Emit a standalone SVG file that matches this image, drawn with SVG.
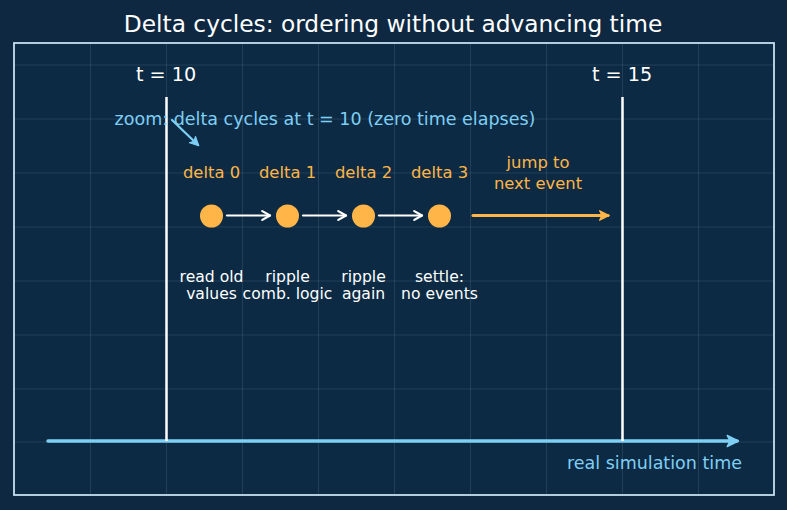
<svg xmlns="http://www.w3.org/2000/svg" width="787" height="510" viewBox="0 0 787 510">
<style>
text{font-family:"DejaVu Sans","Liberation Sans",sans-serif;}
.grid{stroke:#3b5870;stroke-width:0.8;opacity:0.6}
.title{fill:#ffffff;font-size:23.3px;text-anchor:middle}
.tlab{fill:#ffffff;font-size:19.2px;text-anchor:middle}
.dlab{fill:#ffb547;font-size:16.4px;text-anchor:middle}
.sub{fill:#ffffff;font-size:15.6px;text-anchor:middle}
.blue{fill:#7fcff5}
.dot{fill:#ffb547}
</style>
<defs>
<marker id="wh" viewBox="0 0 10 10" refX="8" refY="5" markerWidth="5" markerHeight="5" orient="auto" markerUnits="strokeWidth"><path d="M1,1 L8,5 L1,9" fill="none" stroke="#ffffff" stroke-width="2" stroke-linecap="round" stroke-linejoin="round"/></marker>
<marker id="or" viewBox="0 0 10 10" refX="8" refY="5" markerWidth="4" markerHeight="4" orient="auto" markerUnits="strokeWidth"><path d="M1,1 L9,5 L1,9 L3,5 Z" fill="#ffb547" stroke="#ffb547" stroke-linejoin="round"/></marker>
<marker id="bl" viewBox="0 0 10 10" refX="8" refY="5" markerWidth="4" markerHeight="4" orient="auto" markerUnits="strokeWidth"><path d="M1,1 L9,5 L1,9 L3,5 Z" fill="#7fcff5" stroke="#7fcff5" stroke-linejoin="round"/></marker>
<marker id="bs" viewBox="0 0 10 10" refX="8" refY="5" markerWidth="5" markerHeight="5" orient="auto" markerUnits="strokeWidth"><path d="M1,1 L9,5 L1,9 L3,5 Z" fill="#7fcff5" stroke="#7fcff5" stroke-linejoin="round"/></marker>
</defs>
<rect width="787" height="510" fill="#0d2840"/>
<rect x="14" y="43" width="760" height="452" fill="#0c2a43"/>
<g id="grid">
<line class="grid" x1="90.5" y1="43" x2="90.5" y2="495"/>
<line class="grid" x1="166.5" y1="43" x2="166.5" y2="495"/>
<line class="grid" x1="242.5" y1="43" x2="242.5" y2="495"/>
<line class="grid" x1="318.5" y1="43" x2="318.5" y2="495"/>
<line class="grid" x1="394.5" y1="43" x2="394.5" y2="495"/>
<line class="grid" x1="470.5" y1="43" x2="470.5" y2="495"/>
<line class="grid" x1="546.5" y1="43" x2="546.5" y2="495"/>
<line class="grid" x1="622.5" y1="43" x2="622.5" y2="495"/>
<line class="grid" x1="698.5" y1="43" x2="698.5" y2="495"/>
<line class="grid" x1="14" y1="65" x2="774" y2="65"/>
<line class="grid" x1="14" y1="119" x2="774" y2="119"/>
<line class="grid" x1="14" y1="173" x2="774" y2="173"/>
<line class="grid" x1="14" y1="227" x2="774" y2="227"/>
<line class="grid" x1="14" y1="281" x2="774" y2="281"/>
<line class="grid" x1="14" y1="335" x2="774" y2="335"/>
<line class="grid" x1="14" y1="389" x2="774" y2="389"/>
<line class="grid" x1="14" y1="442" x2="774" y2="442"/>
</g>
<rect x="14" y="43" width="760" height="452" fill="none" stroke="#c6def0" stroke-width="1.8"/>
<text class="title" x="393" y="32">Delta cycles: ordering without advancing time</text>
<g id="connectors">
<line x1="48" y1="441" x2="737" y2="441" stroke="#7fcff5" stroke-width="3.5" stroke-linecap="round" marker-end="url(#bl)"/>
<line x1="166.5" y1="97" x2="166.5" y2="441" stroke="#ffffff" stroke-width="2.5"/>
<line x1="622.5" y1="97" x2="622.5" y2="441" stroke="#ffffff" stroke-width="2.5"/>
<line x1="172" y1="120" x2="198" y2="145" stroke="#7fcff5" stroke-width="2.2" stroke-linecap="round" marker-end="url(#bs)"/>
<line x1="227" y1="215.5" x2="270" y2="215.5" stroke="#ffffff" stroke-width="2.2" stroke-linecap="round" marker-end="url(#wh)"/>
<line x1="303" y1="215.5" x2="346" y2="215.5" stroke="#ffffff" stroke-width="2.2" stroke-linecap="round" marker-end="url(#wh)"/>
<line x1="379" y1="215.5" x2="422" y2="215.5" stroke="#ffffff" stroke-width="2.2" stroke-linecap="round" marker-end="url(#wh)"/>
<line x1="473" y1="215.5" x2="608" y2="215.5" stroke="#ffb547" stroke-width="3" stroke-linecap="round" marker-end="url(#or)"/>
</g>
<g id="t10"><text class="tlab" x="166" y="81">t = 10</text></g>
<g id="t15"><text class="tlab" x="622" y="81">t = 15</text></g>
<g id="zoom"><text class="blue" x="325" y="125" font-size="17.5" text-anchor="middle">zoom: delta cycles at t = 10 (zero time elapses)</text></g>
<g id="delta0"><text class="dlab" x="211.5" y="178">delta 0</text><circle class="dot" cx="211.5" cy="216" r="11.5"/><text class="sub" x="211.5" y="282">read old</text><text class="sub" x="211.5" y="299">values</text></g>
<g id="delta1"><text class="dlab" x="287.5" y="178">delta 1</text><circle class="dot" cx="287.5" cy="216" r="11.5"/><text class="sub" x="287.5" y="282">ripple</text><text class="sub" x="287.5" y="299">comb. logic</text></g>
<g id="delta2"><text class="dlab" x="363.5" y="178">delta 2</text><circle class="dot" cx="363.5" cy="216" r="11.5"/><text class="sub" x="363.5" y="282">ripple</text><text class="sub" x="363.5" y="299">again</text></g>
<g id="delta3"><text class="dlab" x="439.5" y="178">delta 3</text><circle class="dot" cx="439.5" cy="216" r="11.5"/><text class="sub" x="439.5" y="282">settle:</text><text class="sub" x="439.5" y="299">no events</text></g>
<g id="jump"><text class="dlab" x="538" y="168">jump to</text><text class="dlab" x="538" y="189">next event</text></g>
<g id="axislabel"><text class="blue" x="742" y="469" font-size="17.5" text-anchor="end">real simulation time</text></g>
</svg>
